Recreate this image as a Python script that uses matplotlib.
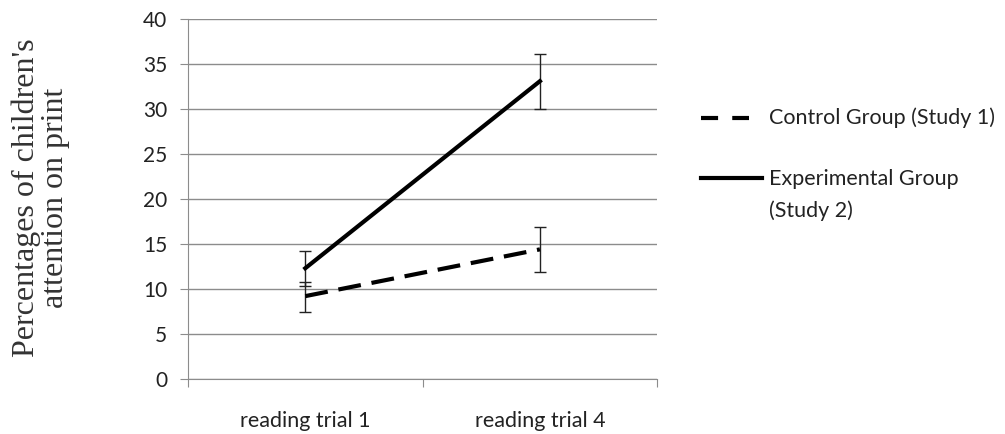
import matplotlib.pyplot as plt
from matplotlib.lines import Line2D
import numpy as np

trials = ["reading trial 1", "reading trial 4"]
control = [9.2, 14.4]
control_lo = [7.4, 11.9]
control_hi = [10.8, 16.9]
experimental = [12.3, 33.1]
exp_lo = [10.3, 30.0]
exp_hi = [14.2, 36.1]
labels = ["Control Group (Study 1)", "Experimental Group\n(Study 2)"]

fig = plt.figure(figsize=(10.05, 4.34), dpi=100)
ax = fig.add_axes([0.187, 0.127, 0.467, 0.829])

x = np.arange(len(trials))
tick_font = "Lato"
dash = (0, (5.5, 2.6))

ax.errorbar(x, control,
            yerr=[np.array(control) - np.array(control_lo), np.array(control_hi) - np.array(control)],
            fmt="none", ecolor="#222222", elinewidth=1, capsize=4, capthick=1, zorder=3)
ax.errorbar(x, experimental,
            yerr=[np.array(experimental) - np.array(exp_lo), np.array(exp_hi) - np.array(experimental)],
            fmt="none", ecolor="#222222", elinewidth=1, capsize=4, capthick=1, zorder=3)

ax.plot(x, control, color="black", lw=3, linestyle=dash, zorder=4)
ax.plot(x, experimental, color="black", lw=3, zorder=4)

ax.set_xlim(-0.5, 1.5)
ax.set_ylim(0, 40)
ax.set_yticks(range(0, 41, 5))
ax.yaxis.grid(True, color="#8c8c8c", lw=1)
ax.set_axisbelow(True)

ax.set_xticks([-0.5, 0.5, 1.5])
ax.set_xticklabels([])
ax.set_xticks(x, minor=True)
ax.set_xticklabels(trials, minor=True, fontsize=15.5, family=tick_font, color="#222222")
ax.tick_params(axis="x", which="minor", length=0, pad=23)
ax.tick_params(axis="x", which="major", length=6, color="#8c8c8c", direction="out")
ax.tick_params(axis="y", length=6, color="#8c8c8c", labelsize=15, pad=9, labelcolor="#222222")
for lab in ax.get_yticklabels():
    lab.set_family(tick_font)

for s in ["top", "right"]:
    ax.spines[s].set_visible(False)
ax.spines["left"].set_color("#8c8c8c")
ax.spines["bottom"].set_color("#8c8c8c")

fig.text(0.041, 0.544, "Percentages of children's\nattention on print", rotation=90,
         ha="center", va="center", fontsize=23, family="Liberation Serif", color="#333333",
         linespacing=1.0)

# legend drawn by hand so the handle sits on the first line of a two-line label
H = 434.0
W = 1005.0
fig.add_artist(Line2D([701 / W, 749 / W], [1 - 118 / H] * 2, transform=fig.transFigure,
                      color="black", lw=3, linestyle=(0, (4.1, 3.4))))
fig.text(769 / W, 1 - 118 / H, labels[0], ha="left", va="center", fontsize=15.5,
         family=tick_font, color="#222222")
fig.add_artist(Line2D([701 / W, 762 / W], [1 - 178 / H] * 2, transform=fig.transFigure,
                      color="black", lw=3))
fig.text(769 / W, 1 - 169 / H, labels[1], ha="left", va="top", fontsize=15.5,
         family=tick_font, color="#222222", linespacing=1.7)

fig.savefig("out.png", dpi=100)
